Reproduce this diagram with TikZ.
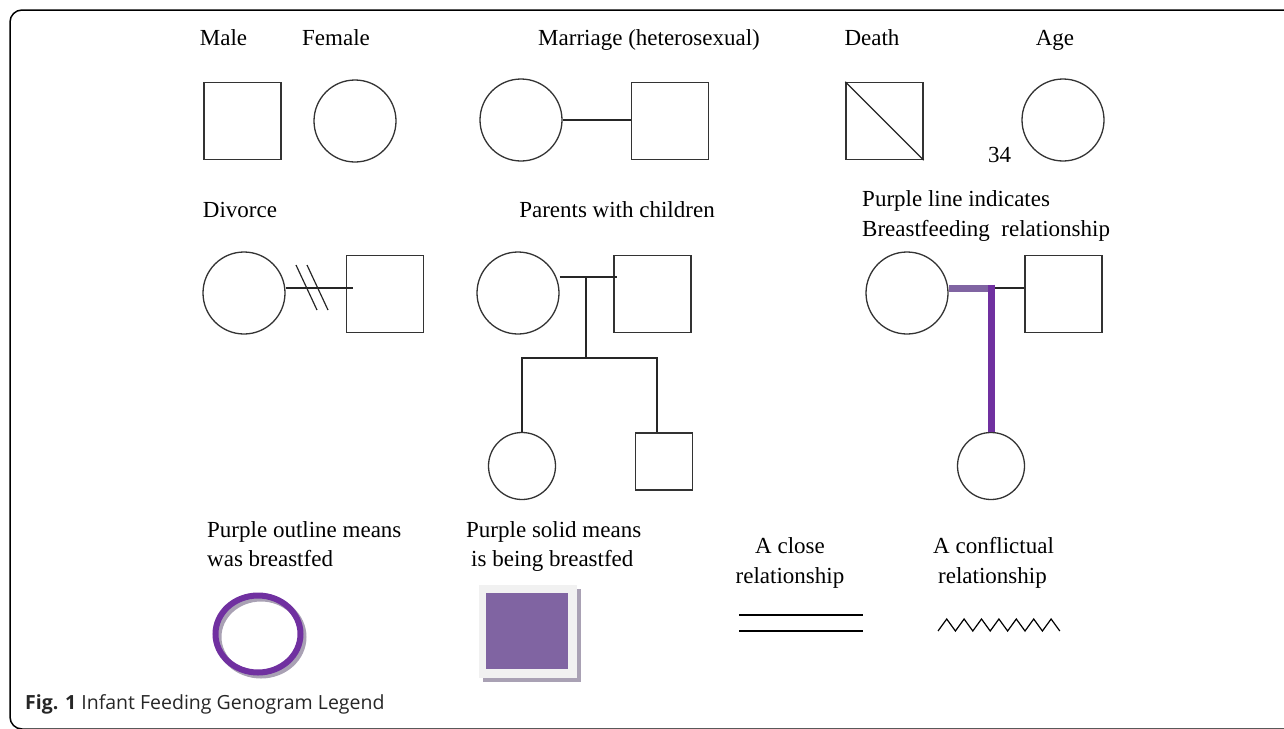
\documentclass[tikz,border=0pt]{standalone}
\usepackage{fontspec}
\setmainfont{Liberation Serif}
\newfontfamily\capfont{Open Sans}
\usepackage{tikz}
\usetikzlibrary{positioning}

\definecolor{zise}{HTML}{7030A0}
\definecolor{danzi}{HTML}{8064A2}
\definecolor{yinying}{HTML}{A9A1B4}
\definecolor{qianhui}{HTML}{F1F1F1}

\begin{document}
\begin{tikzpicture}[x=1pt,y=-1pt,
	nan/.style={draw=black!80,line width=1.3pt,rectangle,minimum size=77pt,inner sep=0pt},
	nv/.style={draw=black!80,line width=1.3pt,circle,minimum size=82pt,inner sep=0pt},
	xnan/.style={nan,minimum size=57pt},
	xnv/.style={nv,minimum size=67pt},
	biaozhu/.style={font=\fontsize{23}{28}\selectfont,inner sep=0pt},
	lianxian/.style={draw=black!85,line width=1.2pt},
	ruxian/.style={line width=7pt}]
	
	% 画布与外框
	\useasboundingbox (0,0) rectangle (1284,728);
	\draw[line width=1.5pt,rounded corners=12pt] (10,10) rectangle (1310,729);
	
	% 第一行: 男 女 婚姻 死亡 年龄
	\node[biaozhu,anchor=base] (lblm) at (223.5,45) {Male};
	\node[biaozhu,anchor=base] (lblf) at (336,45) {Female};
	\node[biaozhu,anchor=base west] (lblh) at (538,45) {Marriage (heterosexual)};
	\node[biaozhu,anchor=base] (lbld) at (872,45) {Death};
	\node[biaozhu,anchor=base] (lbla) at (1055,45) {Age};
	
	\node[nan] (m1) at (242.5,121) {};
	\node[nv] (f1) at (355,121) {};
	\node[nv] (hc) at (521,120) {};
	\node[nan] (hs) at (670,121) {};
	\draw[lianxian] (hc.east) -- (hc.east -| hs.west); % 婚姻线
	\node[nan] (dth) at (884.5,121) {};
	\draw[lianxian] (dth.north west) -- (dth.south east); % 死亡
	\node[nv] (ag) at (1063,120) {};
	\node[biaozhu,anchor=base] (nl) at (999.5,162) {34};
	
	% 第二行: 离婚
	\node[biaozhu,anchor=base] (lbldv) at (240,217) {Divorce};
	\node[nv] (dc) at (244,293) {};
	\node[nan] (ds) at (385,294) {};
	\coordinate (dx) at (353,288);
	\draw[lianxian] (dc.east |- dx) -- (dx);
	\draw[lianxian] (296,265) -- (317,310);
	\draw[lianxian] (307,265) -- (328,310);
	
	% 父母与子女
	\node[biaozhu,anchor=base] (lblp) at (617,217) {Parents with children};
	\node[nv] (pc) at (518,293) {};
	\node[nan] (ps) at (652.5,294) {};
	\coordinate (pm) at (586,277);
	\coordinate (sib) at (586,358);
	\node[xnv] (kc) at (522,466) {};
	\node[xnan] (ks) at (664,461.5) {};
	\draw[lianxian] (pc.east |- pm) -- ([xshift=4pt]ps.west |- pm);
	\draw[lianxian] (pm) -- (sib);
	\draw[lianxian] (kc.north) |- (sib) -| ([xshift=-7pt]ks.north);
	
	% 母乳喂养关系
	\node[biaozhu,anchor=base west] (lblb1) at (862,206) {Purple line indicates};
	\node[biaozhu,anchor=base west] (lblb2) at (862,236) {Breastfeeding\ \ relationship};
	\node[nv] (bc) at (907,293) {};
	\node[nan] (bs) at (1063.5,294) {};
	\node[xnv] (kb) at (991,466) {};
	\coordinate (bm) at (991,288);
	\draw[lianxian] (bm) -- (bs.west |- bm);
	\draw[ruxian,danzi] (bc.east |- bm) -- ([xshift=3.5pt]bm);
	\draw[ruxian,zise] ([yshift=3.5pt]bm) -- (kb.north);
	
	% 第四行: 图例
	\node[biaozhu,anchor=base west] (lblo1) at (207,537) {Purple outline means};
	\node[biaozhu,anchor=base west] (lblo2) at (207,566) {was breastfed};
	\draw[yinying,line width=6pt] (261,637) ellipse (42.5 and 38.5);
	\draw[zise,line width=6pt] (258,634) ellipse (42.5 and 38.5);
	
	\node[biaozhu,anchor=base west] (lbls1) at (466,537) {Purple solid means};
	\node[biaozhu,anchor=base west] (lbls2) at (471,566) {is being breastfed};
	\fill[yinying] (483,589) rectangle (581,682);
	\fill[qianhui] (479,585) rectangle (577,678);
	\fill[danzi] (486,593) rectangle (568,669);
	
	\node[biaozhu,anchor=base] (lblc1) at (790,553) {A close};
	\node[biaozhu,anchor=base] (lblc2) at (790,583) {relationship};
	\draw[line width=1.5pt] (739,615) -- (863,615);
	\draw[line width=1.5pt] (739,631) -- (863,631);
	
	\node[biaozhu,anchor=base west] (lblk1) at (933,553) {A conflictual};
	\node[biaozhu,anchor=base west] (lblk2) at (938,583) {relationship};
	\draw[line width=1.2pt] (938,631) \foreach \i in {1,...,7} { -- ++(8.7,-12) -- ++(8.7,12) };
	
	% 图注
	\node[anchor=base west,inner sep=0pt,text=black!85,font=\capfont\fontsize{19.5}{23}\selectfont] (tuzhu) at (25,709) {\textbf{Fig. 1} Infant Feeding Genogram Legend};
	
\end{tikzpicture}
\end{document}
